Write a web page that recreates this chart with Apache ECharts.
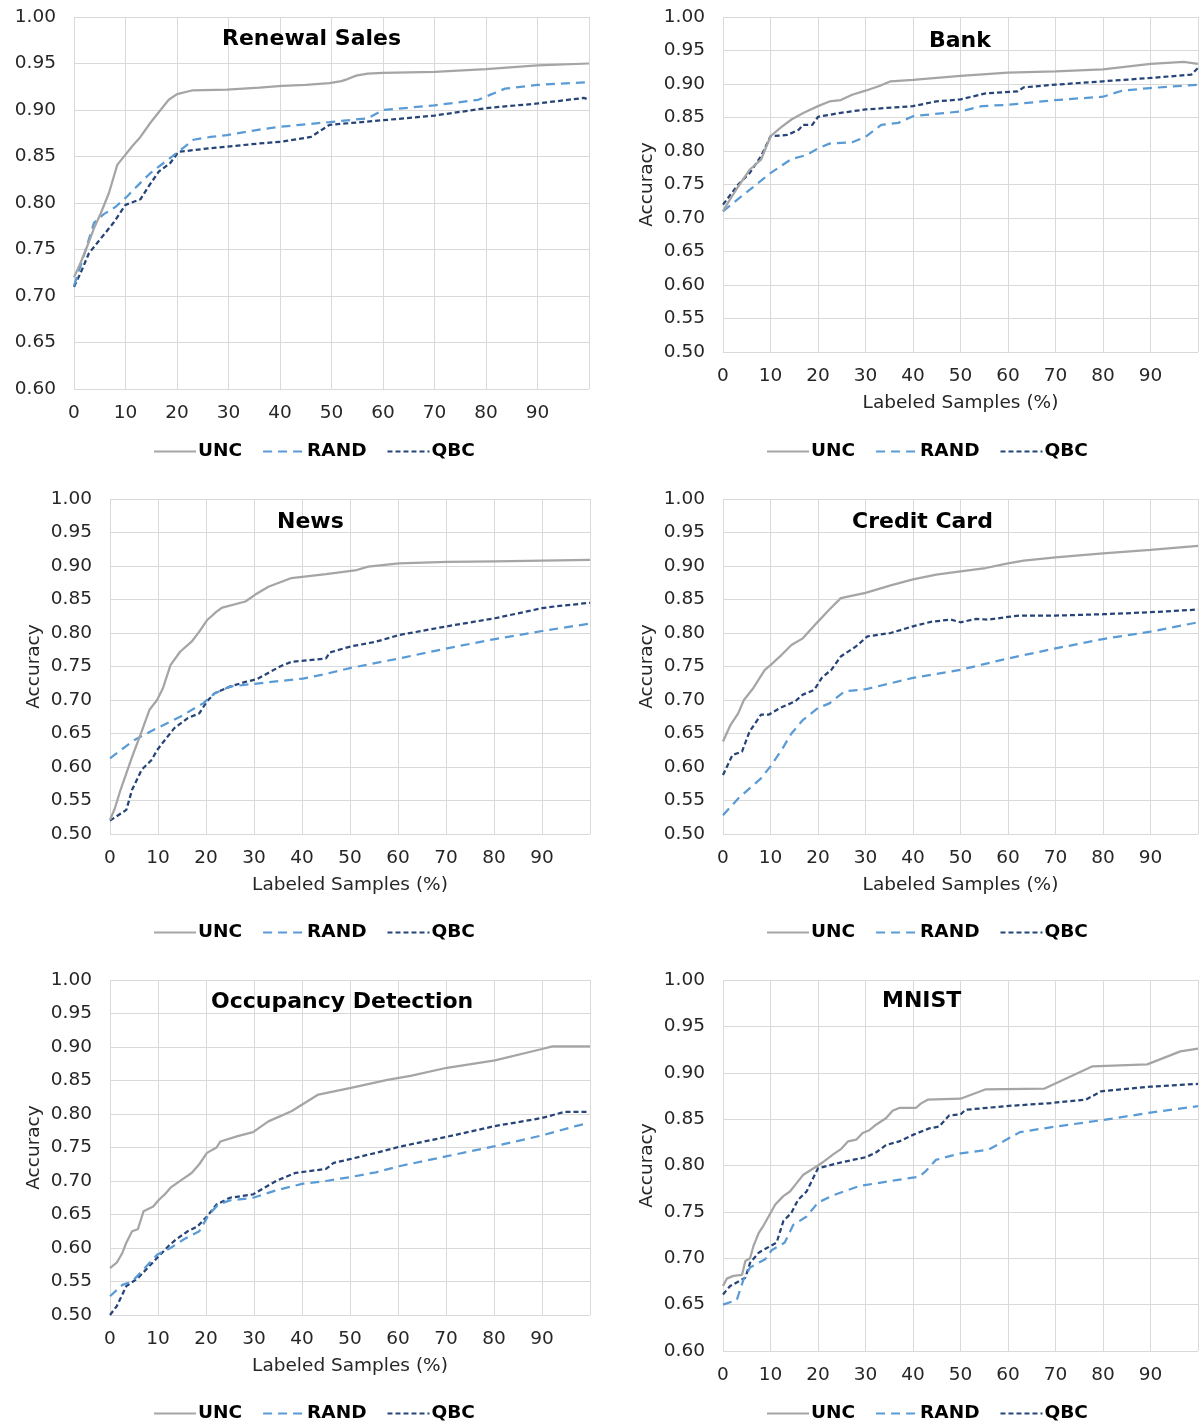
<!DOCTYPE html>
<html>
<head>
<meta charset="utf-8">
<script src="https://cdn.jsdelivr.net/npm/echarts@6/dist/echarts.min.js"></script>
<style>
html,body{margin:0;padding:0;background:#fff;}
#chart{width:1201px;height:1425px;}
</style>
</head>
<body>
<div id="chart"></div>
<script>
// ---------- DATA (x = Labeled Samples %, y = Accuracy) ----------
const seriesNames = ['UNC', 'RAND', 'QBC'];
const panelTitles = ['Renewal Sales', 'Bank', 'News', 'Credit Card', 'Occupancy Detection', 'MNIST'];
const xTicks = [0, 10, 20, 30, 40, 50, 60, 70, 80, 90];

const renewalUNC = [[0,0.720],[1.3,0.736],[2.6,0.754],[3.9,0.773],[5.2,0.789],[6.8,0.811],[8.4,0.841],[10,0.852],[11.3,0.861],[12.9,0.871],[14.8,0.886],[16.8,0.900],[18.4,0.911],[20,0.917],[22.9,0.921],[29.7,0.922],[36,0.924],[40.4,0.926],[45,0.927],[49.6,0.929],[51.9,0.931],[53,0.933],[54.8,0.937],[57,0.939],[60,0.940],[70,0.941],[80,0.944],[90,0.948],[100,0.950]];
const renewalRAND = [[0,0.711],[1.9,0.743],[3.9,0.779],[5.8,0.788],[8.1,0.796],[10.3,0.807],[12.6,0.820],[14.8,0.832],[17.4,0.843],[20,0.854],[21.6,0.861],[23.2,0.868],[26.5,0.871],[29.7,0.873],[36,0.879],[40,0.882],[49.6,0.887],[57,0.891],[60,0.900],[70,0.905],[78.5,0.911],[83.7,0.923],[90,0.927],[100,0.930]];
const renewalQBC = [[0,0.710],[1.3,0.725],[2.9,0.746],[4.5,0.757],[6.1,0.768],[7.7,0.779],[10,0.798],[12.9,0.804],[14.5,0.818],[16.5,0.834],[18.7,0.843],[20.3,0.855],[26.5,0.859],[36,0.864],[40.4,0.866],[46,0.871],[49.6,0.884],[60,0.889],[70,0.894],[80,0.902],[90,0.907],[99,0.913],[100,0.911]];

const bankUNC = [[0,0.710],[0.8,0.720],[3.2,0.747],[5.6,0.772],[8,0.787],[10,0.822],[12,0.834],[14.4,0.847],[17,0.857],[20,0.867],[22.4,0.874],[24.8,0.876],[27.2,0.884],[30,0.890],[32.9,0.897],[35.3,0.904],[40,0.906],[50,0.912],[60,0.917],[70,0.919],[80,0.922],[90,0.930],[97,0.933],[100,0.930]];
const bankRAND = [[0,0.710],[5.6,0.742],[10,0.767],[14.4,0.788],[17.6,0.794],[20,0.804],[22.4,0.811],[27.2,0.813],[30,0.821],[33.3,0.839],[36.9,0.842],[40,0.852],[50,0.859],[54.5,0.867],[60,0.869],[70,0.876],[80,0.881],[84,0.890],[90,0.894],[100,0.899]];
const bankQBC = [[0,0.720],[3.2,0.750],[5.6,0.767],[8,0.792],[10,0.822],[13.6,0.824],[16,0.832],[16.8,0.839],[18.8,0.839],[20,0.851],[24.8,0.857],[30,0.862],[40,0.867],[44.9,0.874],[50,0.877],[55.3,0.886],[62,0.889],[63.3,0.895],[70,0.899],[80,0.904],[90,0.909],[98.6,0.914],[100,0.924]];

const newsUNC = [[0,0.521],[1,0.538],[2.2,0.566],[4.6,0.615],[6.6,0.653],[8.2,0.685],[9.8,0.700],[11,0.717],[12.6,0.752],[14.6,0.772],[17,0.787],[18.6,0.802],[20.2,0.819],[22.2,0.832],[23.4,0.838],[28.2,0.847],[30.2,0.857],[33,0.869],[37.8,0.882],[45,0.888],[51.4,0.894],[53.8,0.899],[60.2,0.904],[70.2,0.906],[80.2,0.907],[100,0.909]];
const newsRAND = [[0,0.613],[5,0.640],[9.8,0.658],[14.6,0.675],[19.4,0.695],[21.8,0.710],[25,0.720],[29.8,0.724],[40.2,0.732],[45,0.739],[50.2,0.748],[60.2,0.762],[70.2,0.777],[80.2,0.791],[90,0.803],[100,0.814]];
const newsQBC = [[0,0.520],[3.4,0.536],[4.6,0.566],[6.6,0.596],[8.6,0.610],[9.8,0.625],[11.4,0.640],[13.4,0.658],[16.2,0.673],[18.6,0.680],[20.2,0.698],[21.8,0.710],[25,0.720],[28.2,0.727],[30.6,0.731],[35.4,0.750],[37.8,0.757],[45,0.762],[45.8,0.771],[50.2,0.780],[55.4,0.787],[60.2,0.797],[70.2,0.810],[80.2,0.822],[90,0.837],[93,0.840],[100,0.845]];

const creditUNC = [[0,0.638],[1.6,0.663],[3.2,0.680],[4.4,0.700],[6.4,0.718],[8.8,0.745],[10,0.752],[12,0.765],[14.4,0.782],[16.8,0.792],[20,0.817],[22.4,0.835],[24.8,0.852],[30,0.860],[35.3,0.871],[40,0.880],[44.9,0.887],[50,0.892],[55.3,0.897],[60,0.904],[63.3,0.908],[70,0.913],[80,0.919],[90,0.924],[100,0.930]];
const creditRAND = [[0,0.528],[3.2,0.553],[5.6,0.568],[8,0.583],[10,0.601],[12.4,0.626],[14.4,0.650],[16.8,0.670],[20,0.688],[22.4,0.695],[25.6,0.713],[30,0.716],[40,0.733],[50,0.745],[60,0.762],[70,0.777],[80,0.791],[90,0.802],[100,0.816]];
const creditQBC = [[0,0.588],[2,0.618],[4,0.623],[5.6,0.653],[8,0.678],[9.6,0.678],[12,0.688],[15.2,0.698],[16.8,0.708],[19.2,0.715],[20.8,0.733],[22.8,0.745],[24.8,0.765],[28,0.780],[30.4,0.795],[35.3,0.800],[40,0.810],[44,0.817],[48,0.820],[50,0.816],[53.3,0.821],[56,0.820],[60,0.824],[62.5,0.826],[70,0.826],[80,0.828],[90,0.831],[100,0.835]];

const occupancyUNC = [[0,0.570],[1.4,0.578],[2.6,0.593],[3.4,0.608],[4.6,0.625],[5.8,0.628],[7,0.655],[9,0.662],[10.2,0.672],[11.4,0.680],[12.6,0.690],[15,0.702],[17,0.712],[18.6,0.725],[20.2,0.742],[22.2,0.750],[23,0.759],[26.6,0.767],[29.8,0.773],[33,0.789],[37.8,0.804],[43.4,0.829],[50.2,0.839],[57.8,0.851],[62.6,0.857],[70.2,0.869],[80.2,0.880],[90,0.897],[92.2,0.901],[100,0.901]];
const occupancyRAND = [[0,0.528],[2.6,0.545],[4.6,0.550],[7,0.568],[9.8,0.590],[12.6,0.600],[15.4,0.613],[18.6,0.625],[20.6,0.650],[22.6,0.665],[25,0.671],[29.8,0.675],[34.6,0.686],[40.2,0.696],[45,0.700],[50.2,0.706],[55.4,0.713],[60.2,0.722],[70.2,0.737],[80.2,0.752],[90,0.768],[97,0.782],[99.4,0.786]];
const occupancyQBC = [[0,0.500],[1.4,0.513],[3.4,0.543],[5.8,0.555],[9.8,0.585],[12.2,0.603],[13.8,0.613],[16.2,0.625],[18.2,0.632],[20.2,0.647],[22.2,0.665],[25,0.675],[29.8,0.680],[34.6,0.700],[38.6,0.712],[45,0.718],[46.6,0.727],[50.2,0.733],[55.4,0.742],[60.2,0.751],[70.2,0.766],[80.2,0.782],[90,0.794],[94.6,0.803],[99.4,0.803]];

const mnistUNC = [[0,0.670],[0.8,0.678],[2.2,0.681],[4,0.682],[4.7,0.697],[5.7,0.700],[6.4,0.713],[7.5,0.727],[8.5,0.735],[9.6,0.745],[11,0.758],[12.7,0.767],[14.1,0.772],[15.5,0.781],[16.9,0.790],[20,0.800],[21.4,0.805],[23.2,0.812],[24.9,0.818],[26.3,0.826],[28.1,0.828],[29.4,0.835],[30.8,0.838],[32.2,0.844],[34.3,0.851],[35.7,0.859],[37.1,0.862],[40.6,0.862],[41.7,0.867],[43.1,0.871],[50,0.872],[55.2,0.882],[67.7,0.883],[77.8,0.907],[89.3,0.909],[96.3,0.923],[100,0.926]];
const mnistRAND = [[0,0.650],[2.9,0.655],[4.3,0.677],[5.7,0.690],[8.9,0.699],[10.3,0.709],[13,0.717],[14.8,0.736],[17.6,0.745],[20,0.760],[23.2,0.768],[28.8,0.778],[35,0.783],[41.3,0.788],[42.7,0.794],[44.8,0.806],[46.9,0.809],[50,0.813],[55.9,0.817],[62.5,0.836],[70,0.842],[80,0.849],[90,0.857],[100,0.864]];
const mnistQBC = [[0,0.661],[1.5,0.670],[4.7,0.679],[5.7,0.695],[7.5,0.706],[11.3,0.717],[12.7,0.740],[14.4,0.749],[15.8,0.763],[17.6,0.772],[20,0.797],[24.6,0.803],[30.1,0.809],[32.2,0.814],[34.3,0.822],[37.1,0.826],[40,0.833],[43.4,0.840],[45.5,0.842],[47.6,0.854],[50,0.855],[51,0.860],[59.4,0.864],[68.4,0.867],[76.4,0.871],[79.6,0.880],[90,0.885],[100,0.888]];

const yMins = [0.60, 0.50, 0.50, 0.50, 0.50, 0.60];
const yMax = 1.00;

// ---------- LAYOUT ----------
const FONT = 'DejaVu Sans';
const panelSeries = [
  [renewalUNC, renewalRAND, renewalQBC],
  [bankUNC, bankRAND, bankQBC],
  [newsUNC, newsRAND, newsQBC],
  [creditUNC, creditRAND, creditQBC],
  [occupancyUNC, occupancyRAND, occupancyQBC],
  [mnistUNC, mnistRAND, mnistQBC]
];
const layout = [
  {grid:{left:74, top:17, width:515, height:372}, yName:false, xName:false, titleLeft:222, titleTop:28, legendLeft:153, legendTop:442},
  {grid:{left:723, top:17, width:479, height:335}, yName:true, xName:true, titleLeft:929, titleTop:30, legendLeft:766, legendTop:442},
  {grid:{left:110, top:499, width:480, height:335}, yName:true, xName:true, titleLeft:277, titleTop:511, legendLeft:153, legendTop:923},
  {grid:{left:723, top:499, width:479, height:335}, yName:true, xName:true, titleLeft:852, titleTop:511, legendLeft:766, legendTop:923},
  {grid:{left:110, top:980, width:480, height:335}, yName:true, xName:true, titleLeft:211, titleTop:991, legendLeft:153, legendTop:1404},
  {grid:{left:723, top:980, width:479, height:371}, yName:true, xName:false, titleLeft:882, titleTop:990, legendLeft:766, legendTop:1404}
];
const styles = [
  {color:'#a5a5a5', type:'solid'},
  {color:'#5b9bd5', type:[9, 6]},
  {color:'#264478', type:[5, 3]}
];

const option = {
  backgroundColor:'#ffffff',
  animation:false,
  title:[], legend:[], grid:[], xAxis:[], yAxis:[], series:[]
};

layout.forEach((L, i) => {
  option.grid.push(Object.assign({containLabel:false}, L.grid));
  option.title.push({
    text: panelTitles[i], left: L.titleLeft, top: L.titleTop, padding: 0,
    textStyle:{fontFamily:FONT, fontSize:22, fontWeight:'bold', color:'#000'}
  });
  option.legend.push({
    data: seriesNames, left: L.legendLeft, top: L.legendTop, padding: 0,
    itemWidth: 42, itemHeight: 14, itemGap: 20, selectedMode: false,
    itemStyle: {opacity: 0},
    textStyle:{fontFamily:FONT, fontSize:18.5, fontWeight:'bold', color:'#000', padding:[0,0,0,-3]}
  });
  option.xAxis.push({
    type:'value', gridIndex:i, min:0, max:100, interval:10,
    name: L.xName ? 'Labeled Samples (%)' : '',
    nameLocation:'middle', nameGap:42,
    nameTextStyle:{fontFamily:FONT, fontSize:18.5, color:'#262626'},
    axisLine:{show:false}, axisTick:{show:false},
    axisLabel:{fontFamily:FONT, fontSize:18.5, color:'#262626', margin:15,
      formatter: v => (xTicks.indexOf(v) >= 0 ? String(v) : '')},
    splitLine:{show:true, lineStyle:{color:'#d9d9d9', width:1}}
  });
  option.yAxis.push({
    type:'value', gridIndex:i, min:yMins[i], max:yMax, interval:0.05,
    name: L.yName ? 'Accuracy' : '',
    nameLocation:'middle', nameGap:66, nameRotate:90,
    nameTextStyle:{fontFamily:FONT, fontSize:18.5, color:'#262626'},
    axisLine:{show:false}, axisTick:{show:false},
    axisLabel:{fontFamily:FONT, fontSize:18.5, color:'#262626', margin:18,
      formatter: v => v.toFixed(2)},
    splitLine:{show:true, lineStyle:{color:'#d9d9d9', width:1}}
  });
  panelSeries[i].forEach((d, k) => {
    option.series.push({
      name: seriesNames[k], type:'line', xAxisIndex:i, yAxisIndex:i,
      data: d, symbol:'none', showSymbol:false, smooth:false,
      lineStyle:{color:styles[k].color, width:2.25, type:styles[k].type},
      itemStyle:{color:styles[k].color},
      z: 3 - k
    });
  });
});

const chart = echarts.init(document.getElementById('chart'), null, {renderer:'canvas'});
chart.setOption(option);
</script>
</body>
</html>
